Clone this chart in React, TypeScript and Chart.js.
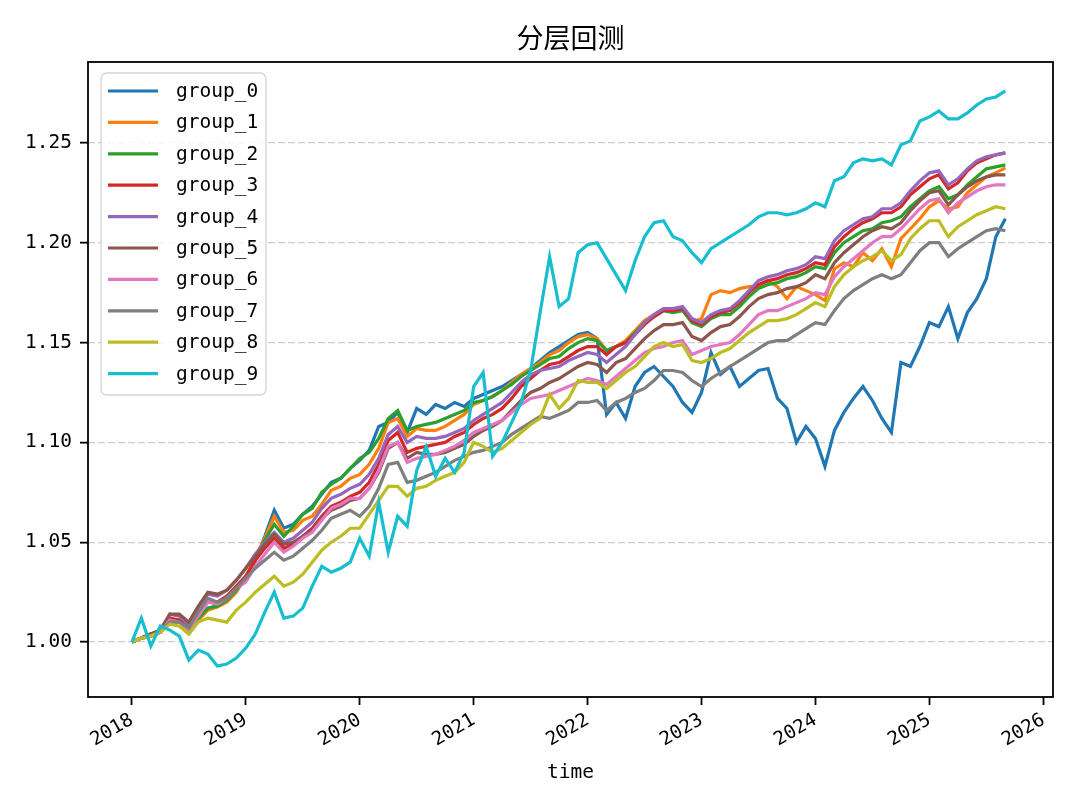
import React, { useEffect, useRef } from "react";
import Chart from "chart.js/auto";

// monthly net value of each layer, Jan 2018 .. Sep 2025
const g0 = [
  1.000, 1.002, 1.004, 1.005, 1.011, 1.011, 1.006, 1.011, 1.017, 1.018, 1.021, 1.026,
  1.031, 1.041, 1.053, 1.066, 1.057, 1.059, 1.064, 1.068, 1.074, 1.080, 1.082, 1.087,
  1.091, 1.096, 1.108, 1.110, 1.115, 1.105, 1.117, 1.114, 1.119, 1.117, 1.120, 1.118,
  1.122, 1.124, 1.126, 1.128, 1.131, 1.134, 1.137, 1.141, 1.145, 1.148, 1.151, 1.154,
  1.155, 1.152, 1.114, 1.120, 1.112, 1.128, 1.135, 1.138, 1.133, 1.128, 1.120, 1.115,
  1.125, 1.145, 1.134, 1.138, 1.128, 1.132, 1.136, 1.137, 1.122, 1.117, 1.100, 1.108,
  1.102, 1.088, 1.106, 1.115, 1.122, 1.128, 1.121, 1.112, 1.105, 1.140, 1.138, 1.148,
  1.160, 1.158, 1.168, 1.152, 1.165, 1.172, 1.182, 1.203, 1.212,
];
const g1 = [
  1.000, 1.002, 1.004, 1.005, 1.010, 1.010, 1.006, 1.011, 1.016, 1.0175, 1.020, 1.025,
  1.033, 1.042, 1.052, 1.063, 1.055, 1.056, 1.061, 1.063, 1.069, 1.076, 1.078, 1.082,
  1.084, 1.089, 1.097, 1.110, 1.112, 1.103, 1.107, 1.106, 1.106, 1.108, 1.111, 1.114,
  1.119, 1.121, 1.123, 1.126, 1.130, 1.134, 1.137, 1.140, 1.144, 1.146, 1.150, 1.153,
  1.154, 1.152, 1.146, 1.148, 1.151, 1.156, 1.161, 1.164, 1.167, 1.167, 1.167, 1.160,
  1.162, 1.174, 1.176, 1.175, 1.177, 1.178, 1.178, 1.181, 1.178, 1.172, 1.178, 1.176,
  1.174, 1.171, 1.187, 1.190, 1.188, 1.195, 1.191, 1.197, 1.188, 1.202, 1.207, 1.212,
  1.218, 1.221, 1.217, 1.218, 1.225, 1.229, 1.233, 1.235, 1.2375,
];
const g2 = [
  1.000, 1.002, 1.004, 1.005, 1.011, 1.011, 1.007, 1.012, 1.017, 1.018, 1.021, 1.026,
  1.032, 1.041, 1.051, 1.059, 1.053, 1.058, 1.064, 1.067, 1.075, 1.079, 1.082, 1.087,
  1.092, 1.095, 1.102, 1.112, 1.116, 1.106, 1.108, 1.109, 1.110, 1.112, 1.114, 1.116,
  1.120, 1.121, 1.123, 1.126, 1.129, 1.133, 1.136, 1.139, 1.142, 1.143, 1.147, 1.150,
  1.152, 1.151, 1.146, 1.148, 1.150, 1.155, 1.160, 1.163, 1.166, 1.165, 1.166, 1.160,
  1.158, 1.162, 1.164, 1.164, 1.168, 1.173, 1.177, 1.179, 1.180, 1.182, 1.183, 1.185,
  1.188, 1.187, 1.195, 1.200, 1.203, 1.206, 1.207, 1.210, 1.211, 1.213, 1.218, 1.222,
  1.226, 1.228, 1.222, 1.224, 1.229, 1.233, 1.237, 1.238, 1.239,
];
const g3 = [
  1.000, 1.002, 1.003, 1.005, 1.012, 1.011, 1.007, 1.014, 1.020, 1.020, 1.023, 1.028,
  1.033, 1.041, 1.047, 1.052, 1.047, 1.049, 1.053, 1.057, 1.063, 1.068, 1.070, 1.073,
  1.075, 1.080, 1.089, 1.101, 1.105, 1.095, 1.097, 1.098, 1.099, 1.100, 1.103, 1.105,
  1.109, 1.112, 1.114, 1.117, 1.122, 1.128, 1.132, 1.136, 1.139, 1.140, 1.143, 1.146,
  1.148, 1.148, 1.144, 1.148, 1.150, 1.154, 1.159, 1.163, 1.166, 1.166, 1.167, 1.161,
  1.159, 1.163, 1.165, 1.166, 1.170, 1.175, 1.179, 1.181, 1.182, 1.184, 1.185, 1.187,
  1.190, 1.189, 1.198, 1.203, 1.207, 1.210, 1.212, 1.215, 1.215, 1.218, 1.224, 1.228,
  1.232, 1.234, 1.227, 1.230, 1.236, 1.240, 1.242, 1.244, 1.245,
];
const g4 = [
  1.000, 1.002, 1.004, 1.006, 1.014, 1.013, 1.009, 1.017, 1.024, 1.023, 1.026, 1.031,
  1.037, 1.044, 1.050, 1.055, 1.050, 1.052, 1.056, 1.060, 1.067, 1.072, 1.074, 1.077,
  1.079, 1.084, 1.092, 1.104, 1.108, 1.100, 1.103, 1.102, 1.102, 1.103, 1.105, 1.107,
  1.111, 1.114, 1.117, 1.120, 1.125, 1.130, 1.134, 1.136, 1.137, 1.138, 1.141, 1.143,
  1.145, 1.144, 1.140, 1.144, 1.148, 1.154, 1.160, 1.164, 1.167, 1.167, 1.168, 1.162,
  1.160, 1.164, 1.166, 1.167, 1.171, 1.176, 1.181, 1.183, 1.184, 1.186, 1.187, 1.189,
  1.193, 1.192, 1.201, 1.206, 1.209, 1.212, 1.213, 1.217, 1.217, 1.220, 1.226, 1.231,
  1.235, 1.236, 1.229, 1.232, 1.237, 1.241, 1.243, 1.244, 1.245,
];
const g5 = [
  1.000, 1.002, 1.004, 1.006, 1.014, 1.014, 1.010, 1.018, 1.025, 1.024, 1.026, 1.031,
  1.037, 1.043, 1.049, 1.054, 1.049, 1.050, 1.053, 1.056, 1.062, 1.066, 1.068, 1.071,
  1.072, 1.077, 1.085, 1.097, 1.100, 1.092, 1.095, 1.094, 1.094, 1.095, 1.097, 1.099,
  1.103, 1.106, 1.108, 1.111, 1.116, 1.121, 1.125, 1.127, 1.130, 1.132, 1.135, 1.138,
  1.140, 1.139, 1.135, 1.140, 1.142, 1.147, 1.152, 1.156, 1.159, 1.159, 1.160, 1.153,
  1.151, 1.155, 1.158, 1.159, 1.163, 1.168, 1.172, 1.174, 1.175, 1.177, 1.178, 1.180,
  1.184, 1.182, 1.190, 1.195, 1.199, 1.203, 1.206, 1.208, 1.207, 1.210, 1.216, 1.221,
  1.225, 1.226, 1.219, 1.224, 1.228, 1.231, 1.233, 1.234, 1.234,
];
const g6 = [
  1.000, 1.002, 1.003, 1.005, 1.011, 1.010, 1.006, 1.013, 1.020, 1.019, 1.022, 1.027,
  1.030, 1.038, 1.044, 1.050, 1.045, 1.048, 1.052, 1.055, 1.061, 1.067, 1.069, 1.072,
  1.072, 1.077, 1.086, 1.098, 1.100, 1.090, 1.092, 1.093, 1.094, 1.096, 1.098, 1.101,
  1.105, 1.107, 1.109, 1.111, 1.115, 1.119, 1.122, 1.123, 1.124, 1.126, 1.128, 1.130,
  1.132, 1.131, 1.129, 1.133, 1.137, 1.141, 1.145, 1.147, 1.148, 1.150, 1.151, 1.144,
  1.146, 1.148, 1.149, 1.150, 1.154, 1.159, 1.164, 1.166, 1.166, 1.168, 1.170, 1.172,
  1.175, 1.174, 1.183, 1.188, 1.192, 1.196, 1.200, 1.203, 1.203, 1.207, 1.212, 1.217,
  1.221, 1.222, 1.215, 1.220, 1.223, 1.226, 1.228, 1.229, 1.229,
];
const g7 = [
  1.000, 1.002, 1.003, 1.005, 1.010, 1.010, 1.007, 1.015, 1.022, 1.020, 1.022, 1.027,
  1.032, 1.037, 1.041, 1.045, 1.041, 1.043, 1.047, 1.051, 1.056, 1.062, 1.064, 1.066,
  1.063, 1.068, 1.077, 1.089, 1.090, 1.080, 1.081, 1.083, 1.085, 1.088, 1.091, 1.093,
  1.095, 1.096, 1.098, 1.100, 1.104, 1.107, 1.110, 1.113, 1.112, 1.114, 1.116, 1.120,
  1.120, 1.121, 1.116, 1.120, 1.122, 1.125, 1.127, 1.131, 1.136, 1.136, 1.135, 1.131,
  1.128, 1.132, 1.135, 1.138, 1.141, 1.144, 1.147, 1.150, 1.151, 1.151, 1.154, 1.157,
  1.160, 1.159, 1.166, 1.172, 1.176, 1.179, 1.182, 1.184, 1.182, 1.184, 1.190, 1.196,
  1.200, 1.200, 1.193, 1.197, 1.200, 1.203, 1.206, 1.207, 1.206,
];
const g8 = [
  1.000, 1.002, 1.003, 1.005, 1.009, 1.008, 1.004, 1.010, 1.012, 1.011, 1.010, 1.016,
  1.020, 1.025, 1.029, 1.033, 1.028, 1.030, 1.034, 1.040, 1.046, 1.050, 1.053, 1.057,
  1.057, 1.064, 1.071, 1.078, 1.078, 1.073, 1.077, 1.078, 1.081, 1.083, 1.085, 1.090,
  1.100, 1.098, 1.095, 1.097, 1.101, 1.105, 1.109, 1.112, 1.124, 1.117, 1.122, 1.131,
  1.130, 1.130, 1.127, 1.131, 1.135, 1.138, 1.143, 1.148, 1.150, 1.148, 1.149, 1.141,
  1.140, 1.142, 1.145, 1.147, 1.151, 1.155, 1.158, 1.161, 1.161, 1.162, 1.164, 1.167,
  1.170, 1.168, 1.178, 1.184, 1.188, 1.191, 1.193, 1.196, 1.191, 1.194, 1.202, 1.207,
  1.211, 1.211, 1.203, 1.208, 1.211, 1.214, 1.216, 1.218, 1.217,
];
const g9 = [
  1.000, 1.012, 0.998, 1.008, 1.006, 1.003, 0.991, 0.996, 0.994, 0.988, 0.989, 0.992,
  0.997, 1.004, 1.015, 1.025, 1.012, 1.013, 1.017, 1.028, 1.038, 1.035, 1.037, 1.040,
  1.052, 1.043, 1.070, 1.045, 1.063, 1.058, 1.086, 1.098, 1.083, 1.092, 1.085, 1.095,
  1.128, 1.135, 1.093, 1.100, 1.110, 1.120, 1.136, 1.165, 1.193, 1.168, 1.172, 1.195,
  1.199, 1.200, 1.192, 1.184, 1.176, 1.191, 1.203, 1.210, 1.211, 1.203, 1.201, 1.195,
  1.190, 1.197, 1.200, 1.203, 1.206, 1.209, 1.213, 1.215, 1.215, 1.214, 1.215, 1.217,
  1.220, 1.218, 1.231, 1.233, 1.240, 1.242, 1.241, 1.242, 1.239, 1.249, 1.251, 1.261,
  1.263, 1.266, 1.262, 1.262, 1.265, 1.269, 1.272, 1.273, 1.276,
];

const groups = [g0, g1, g2, g3, g4, g5, g6, g7, g8, g9];
const groupNames = groups.map((_, i) => `group_${i}`);
const colors = [
  "#1f77b4", "#ff7f0e", "#2ca02c", "#d62728", "#9467bd",
  "#8c564b", "#e377c2", "#7f7f7f", "#bcbd22", "#17becf",
];
// x position of each month as a fractional year
const months = g0.map((_, i) => 2018 + i / 12);
const xTicks = [2018, 2019, 2020, 2021, 2022, 2023, 2024, 2025, 2026];
const yTicks = [1.0, 1.05, 1.1, 1.15, 1.2, 1.25];
const chartTitle = "分层回测";

const MONO = "'DejaVu Sans Mono', monospace";

// matplotlib-like frame, title centred on the axes, legend box top left
const frameAndLegend = {
  id: "frameAndLegend",
  afterDatasetsDraw(chart: any) {
    const { ctx, chartArea } = chart;
    ctx.save();
    ctx.strokeStyle = "#000";
    ctx.lineWidth = 1.8;
    ctx.strokeRect(chartArea.left, chartArea.top, chartArea.right - chartArea.left, chartArea.bottom - chartArea.top);

    ctx.fillStyle = "#000";
    ctx.font = "27px 'Noto Sans CJK SC'";
    ctx.textAlign = "center";
    ctx.textBaseline = "middle";
    ctx.fillText(chartTitle, (chartArea.left + chartArea.right) / 2, chartArea.top - 24);

    const x0 = chartArea.left + 13;
    const y0 = chartArea.top + 11;
    const rowH = 31.4;
    ctx.beginPath();
    ctx.roundRect(x0, y0, 165, 322, 6);
    ctx.fillStyle = "rgba(255,255,255,0.8)";
    ctx.fill();
    ctx.strokeStyle = "#d4d4d4";
    ctx.lineWidth = 1.3;
    ctx.stroke();

    ctx.font = `19.5px ${MONO}`;
    ctx.textAlign = "left";
    chart.data.datasets.forEach((ds: any, i: number) => {
      const cy = y0 + 18 + i * rowH;
      ctx.strokeStyle = ds.borderColor;
      ctx.lineWidth = 3.2;
      ctx.beginPath();
      ctx.moveTo(x0 + 7, cy);
      ctx.lineTo(x0 + 57, cy);
      ctx.stroke();
      ctx.fillStyle = "#000";
      ctx.fillText(ds.label, x0 + 75, cy + 1);
    });
    ctx.restore();
  },
};

export default function App() {
  const canvasRef = useRef<HTMLCanvasElement | null>(null);

  useEffect(() => {
    if (!canvasRef.current) return;
    const chart = new Chart(canvasRef.current, {
      type: "line",
      data: {
        datasets: groups.map((vals, i) => ({
          label: groupNames[i],
          data: vals.map((v, j) => ({ x: months[j], y: v })),
          borderColor: colors[i],
          backgroundColor: colors[i],
          borderWidth: 3.2,
          pointRadius: 0,
          tension: 0,
          fill: false,
          order: 9 - i,
        })),
      },
      options: {
        animation: false,
        responsive: false,
        events: [],
        layout: { padding: { top: 62, right: 27, left: 0, bottom: 0 } },
        plugins: {
          legend: { display: false },
          tooltip: { enabled: false },
          title: { display: false },
        },
        scales: {
          x: {
            type: "linear",
            min: 2017.615,
            max: 2026.085,
            afterFit: (s: any) => { s.height = 113; },
            afterBuildTicks: (s: any) => { s.ticks = xTicks.map((value) => ({ value })); },
            grid: { drawOnChartArea: false, drawTicks: true, tickLength: 8, tickColor: "#000", tickWidth: 1.8 },
            border: { display: false },
            ticks: {
              autoSkip: false,
              minRotation: 30,
              maxRotation: 30,
              padding: 4,
              color: "#000",
              font: { family: MONO, size: 19 },
              callback: (v: any) => String(v),
            },
            title: {
              display: true,
              text: "time",
              color: "#000",
              font: { family: MONO, size: 19.5 },
              padding: { top: 0, bottom: 25 },
            },
          },
          y: {
            min: 0.9725,
            max: 1.2905,
            afterFit: (s: any) => { s.width = 88; },
            afterBuildTicks: (s: any) => { s.ticks = yTicks.map((value) => ({ value })); },
            grid: {
              color: "#cccccc",
              lineWidth: 1.3,
              borderDash: [7, 3],
              drawTicks: true,
              tickLength: 8,
              tickColor: "#000",
              tickWidth: 1.8,
            },
            border: { display: false, dash: [7, 3] },
            ticks: {
              padding: 8,
              color: "#000",
              font: { family: MONO, size: 19.5 },
              callback: (v: any) => Number(v).toFixed(2),
            },
          },
        },
      },
      plugins: [frameAndLegend],
    });
    return () => chart.destroy();
  }, []);

  return (
    <div style={{ position: "absolute", left: 0, top: 0, width: 1080, height: 810, background: "#fff" }}>
      <canvas ref={canvasRef} width={1080} height={810} style={{ width: 1080, height: 810 }} />
    </div>
  );
}
